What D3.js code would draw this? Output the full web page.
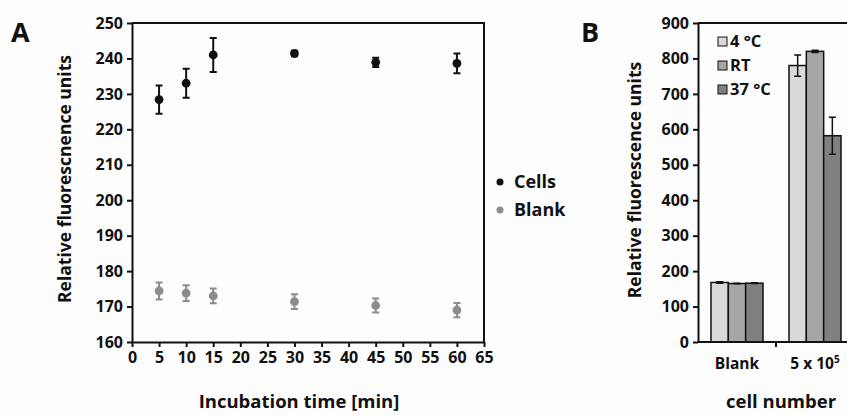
<!DOCTYPE html>
<html>
<head>
<meta charset="utf-8">
<script src="https://cdn.jsdelivr.net/npm/d3@7"></script>
<style>
  body { margin: 0; background: #fdfdfd; }
  svg { display: block; }
  text { font-family: "Open Sans", sans-serif; font-weight: bold; fill: #111; }
</style>
</head>
<body>
<div id="chart"></div>
<script>
// panel A data
const times = [5, 10, 15, 30, 45, 60];
const cellsMean = [228.4, 233.0, 241.0, 241.4, 238.9, 238.6];
const cellsErr = [4.0, 4.1, 4.8, 0.8, 1.3, 2.8];
const blankMean = [174.4, 173.8, 173.0, 171.4, 170.3, 169.0];
const blankErr = [2.4, 2.2, 2.1, 2.1, 2.0, 2.0];
const xTicksA = [0, 5, 10, 15, 20, 25, 30, 35, 40, 45, 50, 55, 60, 65];
const yTicksA = [160, 170, 180, 190, 200, 210, 220, 230, 240, 250];

// panel B data
const groups = ["Blank", "5x10^5"];
const temps = ["4 °C", "RT", "37 °C"];
const barMean = [[168, 165, 166], [780, 820, 582]];
const barErr = [[2, 1, 1], [30, 3, 52]];
const yTicksB = [0, 100, 200, 300, 400, 500, 600, 700, 800, 900];

const W = 847, H = 415;
const svg = d3.select("#chart").append("svg")
  .attr("width", W).attr("height", H);

svg.append("rect").attr("width", W).attr("height", H).attr("fill", "#fdfdfd");

// ---------- panel A ----------
const xA = d3.scaleLinear().domain([0, 65]).range([132, 484]);
const yA = d3.scaleLinear().domain([160, 250]).range([342, 23]);

const gA = svg.append("g");

gA.append("g")
  .attr("transform", `translate(0,${yA(160)})`)
  .call(d3.axisBottom(xA).tickValues(xTicksA).tickSize(5).tickPadding(2).tickSizeOuter(0))
  .call(g => g.selectAll("text").attr("font-size", 16).attr("dy", "0.85em"));

gA.append("g")
  .attr("transform", `translate(${xA(0)},0)`)
  .call(d3.axisLeft(yA).tickValues(yTicksA).tickSize(5).tickPadding(4).tickSizeOuter(0))
  .call(g => g.selectAll("text").attr("font-size", 16));

gA.selectAll(".domain, .tick line").attr("stroke", "#111").attr("stroke-width", 2);

// top / right border
gA.append("path")
  .attr("d", `M${xA(0)},${yA(250)}H${xA(65)}V${yA(160)}`)
  .attr("fill", "none").attr("stroke", "#111").attr("stroke-width", 2);

const seriesA = [
  { name: "Cells", color: "#111", mean: cellsMean, err: cellsErr },
  { name: "Blank", color: "#8c8c8c", mean: blankMean, err: blankErr }
];

seriesA.forEach(s => {
  const pts = times.map((t, i) => ({ t, m: s.mean[i], e: s.err[i] }));
  const g = gA.append("g");
  g.selectAll(".eb").data(pts).join("path")
    .attr("d", d => {
      const x = xA(d.t), y1 = yA(d.m + d.e), y2 = yA(d.m - d.e);
      return `M${x},${y1}V${y2}M${x - 3.5},${y1}h7M${x - 3.5},${y2}h7`;
    })
    .attr("stroke", s.color).attr("stroke-width", 2).attr("fill", "none");
  g.selectAll("circle").data(pts).join("circle")
    .attr("cx", d => xA(d.t)).attr("cy", d => yA(d.m)).attr("r", 4.4)
    .attr("fill", s.color);
});

// legend A
const legA = gA.append("g").attr("transform", "translate(500,182)");
seriesA.forEach((s, i) => {
  legA.append("circle").attr("cx", 0).attr("cy", i * 28).attr("r", 3.5).attr("fill", s.color);
  legA.append("text").attr("x", 14).attr("y", i * 28).attr("dy", "0.36em")
    .attr("font-size", 18).text(s.name);
});

gA.append("text").attr("x", 11).attr("y", 42).attr("font-size", 27).text("A");

gA.append("text")
  .attr("transform", `translate(71,179) rotate(-90)`)
  .attr("text-anchor", "middle").attr("font-size", 17.5)
  .text("Relative fluorescnence units");

gA.append("text")
  .attr("x", 299).attr("y", 408).attr("text-anchor", "middle").attr("font-size", 18.5)
  .text("Incubation time [min]");

// ---------- panel B ----------
const x0 = d3.scaleBand().domain(groups).range([698, 854])
  .paddingInner(1 / 3).paddingOuter(1 / 6);
const x1 = d3.scaleBand().domain(temps).range([0, x0.bandwidth()]);
const yB = d3.scaleLinear().domain([0, 900]).range([342, 23]);
const barColor = d3.scaleOrdinal().domain(temps).range(["#d9d9d9", "#a6a6a6", "#808080"]);

const gB = svg.append("g");

gB.append("g")
  .attr("transform", `translate(698,0)`)
  .call(d3.axisLeft(yB).tickValues(yTicksB).tickSize(5).tickPadding(4).tickSizeOuter(0))
  .call(g => g.selectAll("text").attr("font-size", 16));

gB.selectAll(".domain, .tick line").attr("stroke", "#111").attr("stroke-width", 2);

// top border
gB.append("path")
  .attr("d", `M698,${yB(900)}H${W}`)
  .attr("fill", "none").attr("stroke", "#111").attr("stroke-width", 2);

const bars = [];
groups.forEach((gname, gi) => {
  temps.forEach((t, ti) => {
    bars.push({ g: gname, t, m: barMean[gi][ti], e: barErr[gi][ti] });
  });
});

gB.selectAll(".bar").data(bars).join("rect")
  .attr("class", "bar")
  .attr("x", d => x0(d.g) + x1(d.t))
  .attr("y", d => yB(d.m))
  .attr("width", x1.bandwidth())
  .attr("height", d => yB(0) - yB(d.m))
  .attr("fill", d => barColor(d.t))
  .attr("stroke", "#111").attr("stroke-width", 1.5);

gB.selectAll(".eb").data(bars).join("path")
  .attr("d", d => {
    const x = x0(d.g) + x1(d.t) + x1.bandwidth() / 2;
    const y1 = yB(d.m + d.e), y2 = yB(d.m - d.e);
    return `M${x},${y1}V${y2}M${x - 3.5},${y1}h7M${x - 3.5},${y2}h7`;
  })
  .attr("stroke", "#111").attr("stroke-width", 1.5).attr("fill", "none");

// x axis B
gB.append("path")
  .attr("d", `M698,${yB(0)}H${W}`)
  .attr("stroke", "#111").attr("stroke-width", 2);
gB.selectAll(".sep").data([x0.step()]).join("line")
  .attr("x1", d => 698 + d).attr("x2", d => 698 + d)
  .attr("y1", yB(0)).attr("y2", yB(0) + 5)
  .attr("stroke", "#111").attr("stroke-width", 2);

const xlab = gB.selectAll(".xl").data(groups).join("text")
  .attr("x", d => x0(d) + x0.bandwidth() / 2)
  .attr("y", 369).attr("text-anchor", "middle").attr("font-size", 15.5);
xlab.filter(d => d === "Blank").text("Blank");
xlab.filter(d => d !== "Blank").each(function () {
  const t = d3.select(this);
  t.append("tspan").text("5 x 10");
  t.append("tspan").attr("font-size", 10).attr("dy", -6).text("5");
});

// legend B
const legB = gB.append("g").attr("transform", "translate(718,37)");
temps.forEach((t, i) => {
  legB.append("rect").attr("x", 0).attr("y", i * 24).attr("width", 9).attr("height", 9)
    .attr("fill", barColor(t)).attr("stroke", "#111").attr("stroke-width", 1);
  legB.append("text").attr("x", 12).attr("y", i * 24 + 4.5).attr("dy", "0.36em")
    .attr("font-size", 16.5).text(t);
});

gB.append("text").attr("x", 581).attr("y", 42).attr("font-size", 27).text("B");

gB.append("text")
  .attr("transform", `translate(641,180) rotate(-90)`)
  .attr("text-anchor", "middle").attr("font-size", 17.5)
  .text("Relative fluorescence units");

gB.append("text")
  .attr("x", 781).attr("y", 408).attr("text-anchor", "middle").attr("font-size", 18.5)
  .text("cell number");
</script>
</body>
</html>
